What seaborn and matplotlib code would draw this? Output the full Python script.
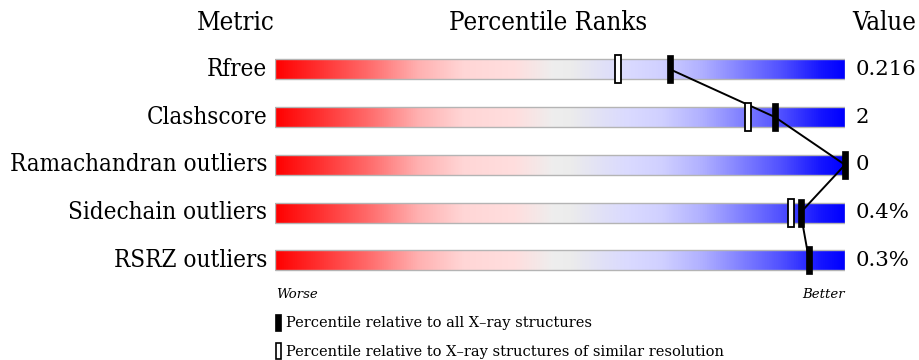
import numpy as np
import matplotlib
matplotlib.use("Agg")
import matplotlib.pyplot as plt
import seaborn as sns
import pandas as pd
from matplotlib.colors import LinearSegmentedColormap
from matplotlib.patches import Rectangle

sns.set_style("white")
plt.rcParams["font.family"] = ["DejaVu Serif", "DejaVu Sans"]
plt.rcParams["text.color"] = "black"

metrics = ["Rfree", "Clashscore", "Ramachandran outliers", "Sidechain outliers", "RSRZ outliers"]
values = ["0.216", "2", "0", "0.4%", "0.3%"]
pct_all = [69.3, 87.7, 100.0, 92.2, 93.7]
pct_similar = [60.2, 83.0, None, 90.6, None]

# red -> grey -> blue slider colours
stops = [
    (0.00, (255, 0, 0)), (0.10, (255, 64, 64)), (0.17, (255, 112, 112)),
    (0.25, (255, 176, 176)), (0.33, (255, 214, 214)), (0.42, (255, 222, 222)),
    (0.49, (238, 238, 238)), (0.52, (236, 236, 236)), (0.58, (224, 224, 248)),
    (0.62, (218, 218, 255)), (0.68, (208, 208, 255)), (0.75, (176, 176, 255)),
    (0.82, (128, 128, 255)), (0.89, (80, 80, 255)), (0.96, (20, 20, 255)),
    (1.00, (0, 0, 255)),
]
cmap = LinearSegmentedColormap.from_list(
    "slider", [(p, tuple(c / 255 for c in rgb)) for p, rgb in stops])

W, H = 919, 360
fig = plt.figure(figsize=(W / 100, H / 100), dpi=100)
x0, x1 = 275, 845
row0, step = 69.3, 47.75
top_px = row0 - 0.5 * step
bot_px = row0 + 4.5 * step
ax = fig.add_axes([x0 / W, 1 - bot_px / H, (x1 - x0) / W, (bot_px - top_px) / H])
ax.set_xlim(0, 100)
ax.set_ylim(4.5, -0.5)
ax.axis("off")

grad = np.linspace(0, 1, 512)[None, :]
bar_h = 20 / step
for i in range(len(metrics)):
    ax.imshow(grad, cmap=cmap, aspect="auto", interpolation="bilinear",
              extent=(0, 100, i + bar_h / 2, i - bar_h / 2), zorder=1)
    ax.add_patch(Rectangle((0, i - bar_h / 2), 100, bar_h, fill=False,
                           edgecolor="#b4b4b4", linewidth=1.0, zorder=2))

df = pd.DataFrame({"pct": pct_all, "row": range(len(metrics))})
sns.lineplot(data=df, x="pct", y="row", sort=False, color="black",
             linewidth=1.4, ax=ax, zorder=3, legend=False)
ax.set_xlim(0, 100)
ax.set_ylim(4.5, -0.5)

mk_w = 6 / ((x1 - x0) / 100)
mk_h = 28 / step
for i, p in enumerate(pct_similar):
    if p is not None:
        ax.bar(p, mk_h, bottom=i - mk_h / 2, width=mk_w, color="white",
               edgecolor="black", linewidth=1.3, zorder=4, clip_on=False)
for i, p in enumerate(pct_all):
    ax.bar(p, mk_h, bottom=i - mk_h / 2, width=mk_w, color="black",
           edgecolor="black", linewidth=0.5, zorder=5, clip_on=False)

for i, (m, v) in enumerate(zip(metrics, values)):
    y = 1 - (row0 + i * step) / H
    fig.text(267 / W, y, m, ha="right", va="center", fontsize=17.3, fontstretch="condensed")
    fig.text(856 / W, y, v, ha="left", va="center", fontsize=15.3)

hdr = dict(ha="center", va="center", fontsize=18.5, fontstretch="condensed")
fig.text(236 / W, 1 - 22 / H, "Metric", **hdr)
fig.text(548 / W, 1 - 22 / H, "Percentile Ranks", **hdr)
fig.text(884 / W, 1 - 22 / H, "Value", **hdr)

fig.text(276 / W, 1 - 294 / H, "Worse", ha="left", va="center", fontsize=9.5, style="italic")
fig.text(845 / W, 1 - 294 / H, "Better", ha="right", va="center", fontsize=9.5, style="italic")

fig.patches.append(Rectangle((275 / W, 1 - 331 / H), 6 / W, 17 / H, transform=fig.transFigure,
                             facecolor="black", edgecolor="black", linewidth=0.5))
fig.patches.append(Rectangle((275.5 / W, 1 - 359 / H), 5 / W, 16 / H, transform=fig.transFigure,
                             facecolor="white", edgecolor="black", linewidth=1.2))
fig.text(286 / W, 1 - 323 / H, "Percentile relative to all X\u2013ray structures",
         ha="left", va="center", fontsize=10.5)
fig.text(286 / W, 1 - 352 / H, "Percentile relative to X\u2013ray structures of similar resolution",
         ha="left", va="center", fontsize=10.5)

fig.savefig("out.png", dpi=100, facecolor="white")
